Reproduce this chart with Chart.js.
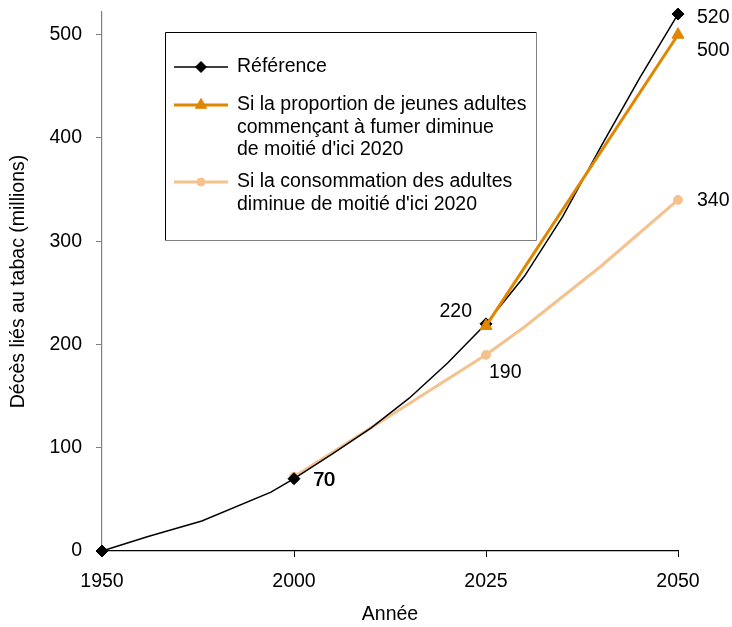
<!DOCTYPE html>
<html><head><meta charset="utf-8">
<script src="https://cdn.jsdelivr.net/npm/chart.js@4.4.0/dist/chart.umd.min.js"></script>
<style>html,body{margin:0;padding:0;background:#fff;}#wrap{width:732px;height:627px;position:relative;}</style>
</head><body><div id="wrap"><canvas id="c" width="732" height="627" style="width:732px;height:627px"></canvas></div>
<script>
// ---- data ----
const refYears   = [1950, 1962, 1976, 1994, 2000, 2005, 2010, 2015, 2020, 2025, 2030, 2035, 2040, 2045, 2050];
const refValues  = [0,    14,   29,   57,   70,   94,   119,  148,  182,  220,  266,  324,  392,  458,  520];
const youthYears  = [2025, 2050];
const youthValues = [218, 500];
const adultYears  = [2000, 2025, 2030, 2040, 2050];
const adultValues = [72,   190,  217,  276,  340];
const markerYears = [1950, 2000, 2025, 2050];
const tickYears   = [1950, 2000, 2025, 2050];
const seriesNames = ['Référence',
  ['Si la proportion de jeunes adultes', 'commençant à fumer diminue', 'de moitié d\'ici 2020'],
  ['Si la consommation des adultes', 'diminue de moitié d\'ici 2020']];
const yTitle = 'Décès liés au tabac (millions)';
const xTitle = 'Année';

// axis categories (the source axis is compressed before 2000)
const categories = [];
for (let y = 1950; y < 2000; y += 2) categories.push(String(y));
for (let y = 2000; y <= 2050; y++) categories.push(String(y));

const pts = (xs, vs) => xs.map((x, i) => ({x: String(x), y: vs[i]}));

const FONT = "'Liberation Sans', Arial, sans-serif";
const FS = 19.5;
const C_REF = '#000000', C_YOUTH = '#E08600', C_ADULT = '#F5C28E';

const markerR = (r) => (ctx) => (ctx.raw && markerYears.includes(+ctx.raw.x)) ? r : 0;

// value labels: [datasetIndex, year, dx, dy, align]
const valueLabels = [
  [0, 2050, 19, 4, 'left'],
  [1, 2050, 19, 16, 'left'],
  [2, 2050, 19, 1, 'left'],
  [0, 2025, -14, -12, 'right'],
  [2, 2025, 3, 18, 'left'],
  [0, 2000, 19, 2, 'left']
];

const labelPlugin = {
  id: 'labels',
  afterDatasetsDraw(chart) {
    const ctx = chart.ctx;
    ctx.save();
    ctx.font = FS + 'px ' + FONT;
    ctx.fillStyle = '#000';
    ctx.textBaseline = 'middle';
    for (const [di, yr, dx, dy, al] of valueLabels) {
      const ds = chart.data.datasets[di];
      const meta = chart.getDatasetMeta(di);
      const idx = ds.data.findIndex(p => +p.x === yr);
      if (idx < 0) continue;
      const el = meta.data[idx];
      ctx.textAlign = al;
      const txt = String(ds.data[idx].y);
      ctx.fillText(txt, el.x + dx, el.y + dy);
      if (yr === 2000) ctx.fillText(txt, el.x + dx + 0.7, el.y + dy);
    }
    ctx.restore();
  },
  afterDraw(chart) {
    const ctx = chart.ctx;
    ctx.save();
    ctx.lineWidth = 1;
    ctx.strokeStyle = '#000';
    ctx.beginPath();
    ctx.moveTo(165.5, 240.5); ctx.lineTo(165.5, 32.5); ctx.lineTo(536.5, 32.5);
    ctx.stroke();
    ctx.strokeStyle = '#808080';
    ctx.beginPath();
    ctx.moveTo(536.5, 32.5); ctx.lineTo(536.5, 240.5); ctx.lineTo(165.5, 240.5);
    ctx.stroke();
    const rows = [
      {ds: 0, y: 67, lines: [seriesNames[0]]},
      {ds: 1, y: 105, lines: seriesNames[1]},
      {ds: 2, y: 182, lines: seriesNames[2]}
    ];
    for (const r of rows) {
      const ds = chart.data.datasets[r.ds];
      ctx.strokeStyle = ds.borderColor;
      ctx.lineWidth = ds.borderWidth;
      ctx.beginPath(); ctx.moveTo(174, r.y); ctx.lineTo(228, r.y); ctx.stroke();
      ctx.fillStyle = ds.pointBackgroundColor;
      ctx.strokeStyle = ds.pointBorderColor;
      ctx.lineWidth = 1;
      Chart.helpers.drawPoint(ctx, {pointStyle: ds.pointStyle, radius: ds.legendRadius, borderWidth: 1, rotation: 0}, 201, r.y);
      ctx.font = FS + 'px ' + FONT;
      ctx.textBaseline = 'middle';
      ctx.textAlign = 'left';
      ctx.fillStyle = '#000';
      r.lines.forEach((t, i) => ctx.fillText(t, 237, r.y + i * 22.5));
    }
    ctx.restore();
  }
};

new Chart(document.getElementById('c'), {
  type: 'line',
  data: {
    labels: categories,
    datasets: [
      {label: 'ref', data: pts(refYears, refValues), borderColor: C_REF, borderWidth: 1.5,
       pointStyle: 'rectRot', pointRadius: markerR(6), pointBackgroundColor: C_REF, pointBorderColor: C_REF,
       pointBorderWidth: 1, legendRadius: 5.5, tension: 0, clip: false, order: 1},
      {label: 'youth', data: pts(youthYears, youthValues), borderColor: C_YOUTH, borderWidth: 3,
       pointStyle: 'triangle', pointRadius: markerR(7), pointBackgroundColor: C_YOUTH, pointBorderColor: C_YOUTH,
       pointBorderWidth: 1, legendRadius: 6.5, tension: 0, clip: false, order: 0},
      {label: 'adult', data: pts(adultYears, adultValues), borderColor: C_ADULT, borderWidth: 3,
       pointStyle: 'circle', pointRadius: markerR(4.5), pointBackgroundColor: C_ADULT, pointBorderColor: C_ADULT,
       pointBorderWidth: 1, legendRadius: 4, tension: 0, clip: false, order: 2}
    ]
  },
  options: {
    responsive: false,
    animation: false,
    events: [],
    devicePixelRatio: 1,
    layout: {padding: {left: 0, top: 12, right: 54, bottom: 0}},
    plugins: {legend: {display: false}, tooltip: {enabled: false}},
    scales: {
      x: {
        type: 'category', offset: false,
        afterFit(s) { s.height = 76; s.paddingLeft = 0; s.paddingRight = 0; },
        border: {color: '#000', width: 1.2},
        grid: {drawOnChartArea: false, drawTicks: true, tickLength: 6,
          color: (c) => (c.tick && tickYears.includes(+categories[c.tick.value])) ? '#000' : 'rgba(0,0,0,0)'},
        ticks: {autoSkip: false, maxRotation: 0, padding: 13, color: '#000', font: {family: FONT, size: FS},
          callback: (v) => tickYears.includes(+categories[v]) ? categories[v] : ''},
        title: {display: true, text: xTitle, color: '#000', font: {family: FONT, size: FS}, padding: {top: 0, bottom: 1}}
      },
      y: {
        min: 0, max: 522,
        afterFit(s) { s.width = 102; s.paddingTop = 0; s.paddingBottom = 0; },
        border: {color: '#808080', width: 1.2},
        grid: {drawOnChartArea: false, drawTicks: true, tickLength: 6, color: '#808080'},
        ticks: {stepSize: 100, includeBounds: false, padding: 14, color: '#000', font: {family: FONT, size: FS}},
        title: {display: true, text: yTitle, color: '#000', font: {family: FONT, size: FS}, padding: {top: 7, bottom: 0}}
      }
    }
  },
  plugins: [labelPlugin]
});
</script></body></html>
